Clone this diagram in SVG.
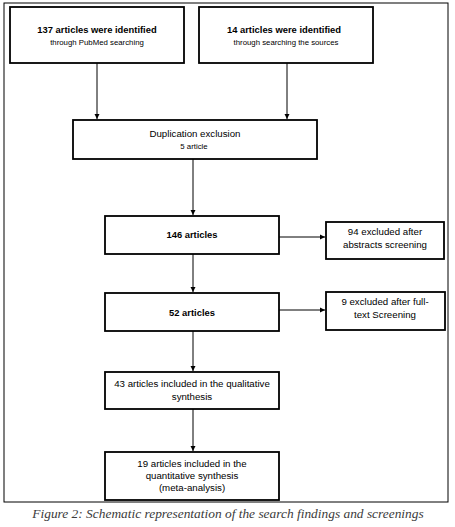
<svg xmlns="http://www.w3.org/2000/svg" width="455" height="527" viewBox="0 0 455 527">
<defs>
<marker id="ah" markerWidth="6" markerHeight="6" refX="5" refY="3" orient="auto" markerUnits="userSpaceOnUse">
<path d="M0,0.5 L5,3 L0,5.5 Z" fill="#000"/>
</marker>
<style>
.box{fill:#fff;stroke:#000;stroke-width:1.8}
.t{font-family:"Liberation Sans",Arial,sans-serif;font-size:9.7px;fill:#000;text-anchor:middle}
.b{font-weight:bold;font-size:9.4px}
.s{font-size:7.8px}
.c{stroke:#000;stroke-width:1;fill:none;marker-end:url(#ah)}
.cap{font-family:"Liberation Serif","Times New Roman",serif;font-style:italic;font-size:13.4px;fill:#3a3a3a;text-anchor:middle}
</style>
</defs>
<rect x="0" y="0" width="455" height="527" fill="#fff"/>
<rect x="4" y="3" width="444" height="499" fill="none" stroke="#000" stroke-width="1"/>
<g id="connectors">
<line class="c" x1="97" y1="63" x2="97" y2="119"/>
<line class="c" x1="287" y1="63" x2="287" y2="119"/>
<line class="c" x1="193" y1="159" x2="193" y2="215"/>
<line class="c" x1="279" y1="237" x2="325" y2="237"/>
<line class="c" x1="193" y1="254" x2="193" y2="292"/>
<line class="c" x1="279" y1="310" x2="325" y2="310"/>
<line class="c" x1="193" y1="331" x2="193" y2="371"/>
<line class="c" x1="193" y1="409" x2="193" y2="451"/>
</g>
<g id="n1">
<rect class="box" x="10" y="7" width="174" height="56"/>
<text class="t b" x="97" y="33">137 articles were identified</text>
<text class="t s" x="97" y="45">through PubMed searching</text>
</g>
<g id="n2">
<rect class="box" x="199" y="7" width="174" height="56"/>
<text class="t b" x="284" y="33">14 articles were identified</text>
<text class="t s" x="286" y="45">through searching the sources</text>
</g>
<g id="n3">
<rect class="box" x="73" y="120" width="244" height="39"/>
<text class="t" x="195" y="137">Duplication exclusion</text>
<text class="t s" x="194" y="149">5 article</text>
</g>
<g id="n4">
<rect class="box" x="105" y="216" width="174" height="38"/>
<text class="t b" x="192" y="238">146 articles</text>
</g>
<g id="n5">
<rect class="box" x="326" y="222" width="118" height="37"/>
<text class="t" x="385" y="235">94 excluded after</text>
<text class="t" x="385" y="248">abstracts screening</text>
</g>
<g id="n6">
<rect class="box" x="105" y="293" width="174" height="38"/>
<text class="t b" x="192" y="316">52 articles</text>
</g>
<g id="n7">
<rect class="box" x="326" y="292" width="119" height="38"/>
<text class="t" x="385" y="305">9 excluded after full-</text>
<text class="t" x="385" y="318">text Screening</text>
</g>
<g id="n8">
<rect class="box" x="105" y="372" width="174" height="37"/>
<text class="t" x="192" y="387">43 articles included in the qualitative</text>
<text class="t" x="192" y="400">synthesis</text>
</g>
<g id="n9">
<rect class="box" x="105" y="452" width="174" height="48"/>
<text class="t" x="192" y="467">19 articles included in the</text>
<text class="t" x="192" y="479">quantitative synthesis</text>
<text class="t" x="192" y="491">(meta-analysis)</text>
</g>
<text class="cap" x="228" y="518">Figure 2: Schematic representation of the search findings and screenings</text>
</svg>
